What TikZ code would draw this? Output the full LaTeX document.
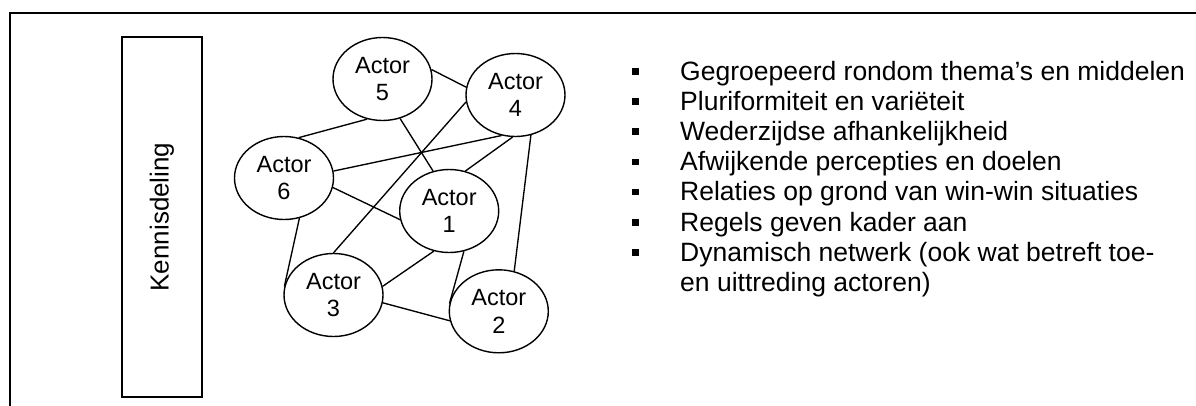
\documentclass[tikz,border=0pt]{standalone}
\usepackage{fontspec}
\setmainfont{Liberation Sans}
\usetikzlibrary{shapes.geometric}
\newcommand\sqbul{\rule[5.5pt]{6.5pt}{6.5pt}}
\begin{document}
\begin{tikzpicture}[x=1pt,y=-1pt,
  actor/.style={draw, line width=1.4pt, ellipse, minimum width=99pt, minimum height=83pt, inner sep=0pt, align=center, font=\fontsize{23.5}{27.3}\selectfont},
  link/.style={line width=1.35pt},
  frame/.style={line width=1.4pt}]
\useasboundingbox (0,0) rectangle (1196,405);
\clip (0,0) rectangle (1196,405);
\draw[frame] (10,420) -- (10,13) -- (1210,13);
\node[draw, frame, minimum width=80pt, minimum height=360pt, inner sep=0pt] (kb) at (162,217) {};
\node[rotate=90, font=\fontsize{26}{30}\selectfont] (kt) at (kb.center) {Kennisdeling};
\node[actor] (a5) at (382.5,79) {Actor\\5};
\node[actor] (a4) at (515.5,95) {Actor\\4};
\node[actor] (a6) at (284,178) {Actor\\6};
\node[actor] (a1) at (449.2,211) {Actor\\1};
\node[actor] (a3) at (333.5,295) {Actor\\3};
\node[actor] (a2) at (498.8,311.3) {Actor\\2};
\draw[link] (a5.11) -- (a4.171);
\draw[link] (a5.249) -- (a6.70);
\draw[link] (a5.294) -- (a1.112);
\draw[link] (a4.188) -- (a3.90);
\draw[link] (a4.251) -- (a6.8);
\draw[link] (a4.266) -- (a1.68);
\draw[link] (a4.291) -- (a2.69);
\draw[link] (a6.349) -- (a1.190);
\draw[link] (a6.291) -- (a3.170);
\draw[link] (a1.249) -- (a3.10);
\draw[link] (a1.290) -- (a2.171);
\draw[link] (a3.351) -- (a2.191);
\node[anchor=base west, inner sep=0pt, font=\fontsize{26.5}{30.2}\selectfont] (list) at (632,80) {%
\begin{tabular}[t]{@{}p{48pt}@{}l@{}}
\sqbul & Gegroepeerd rondom thema’s en middelen\\
\sqbul & Pluriformiteit en variëteit\\
\sqbul & Wederzijdse afhankelijkheid\\
\sqbul & Afwijkende percepties en doelen\\
\sqbul & Relaties op grond van win-win situaties\\
\sqbul & Regels geven kader aan\\
\sqbul & Dynamisch netwerk (ook wat betreft toe-\\
 & en uittreding actoren)
\end{tabular}};
\end{tikzpicture}
\end{document}
